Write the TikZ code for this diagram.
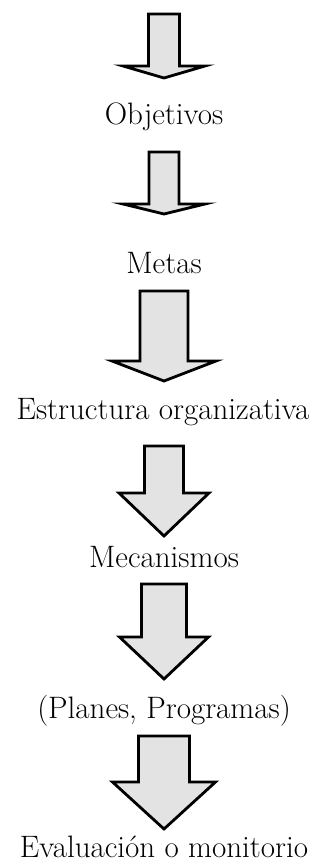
\documentclass[tikz,border=0pt]{standalone}
\usepackage{fontspec}
\begin{document}
\begin{tikzpicture}[x=1pt,y=-1pt,
  lbl/.style={anchor=base,inner sep=0pt,font=\fontsize{31}{37}\selectfont},
  fatarrow/.style={draw=black,line width=2.8pt,line join=miter,fill=gray!22}]
\useasboundingbox (0,0) rectangle (320,866);
\newcommand\fatdown[6]{% cx top shafthalf wingy winghalf tipy
  \path[fatarrow] (#1-#3,#2) -- (#1+#3,#2) -- (#1+#3,#4) -- (#1+#5,#4) -- (#1,#6)
     -- (#1-#5,#4) -- (#1-#3,#4) -- cycle;}
\node[lbl] (obj) at (164,125) {Objetivos};
\node[lbl] (met) at (164,273) {Metas};
\node[lbl] (est) at (163,419) {Estructura organizativa};
\node[lbl] (mec) at (164,567) {Mecanismos};
\node[lbl] (pla) at (164,718) {(Planes, Programas)};
\node[lbl] (eva) at (164,857) {Evaluación o monitorio};
\fatdown{164}{14}{15.5}{66}{41}{78}
\fatdown{164}{152}{15}{204}{41}{214}
\fatdown{164}{291}{24}{361}{52}{381}
\fatdown{164}{446}{19.5}{493}{45}{536}
\fatdown{164}{584}{22.5}{637}{44.5}{679}
\fatdown{164}{736}{25.5}{782}{51.5}{829}
\end{tikzpicture}
\end{document}
